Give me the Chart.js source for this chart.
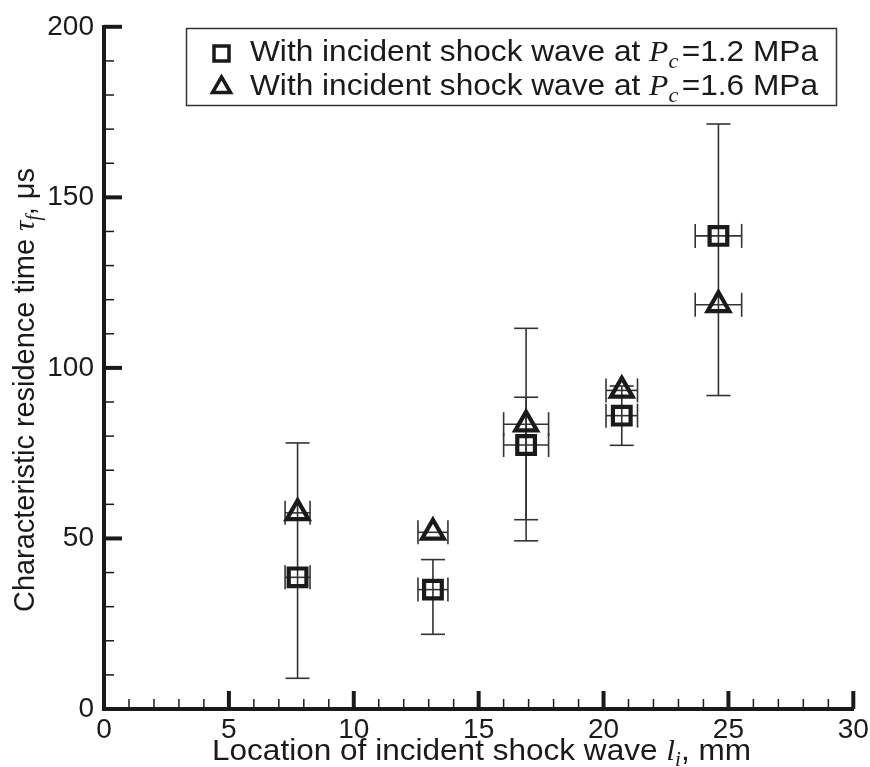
<!DOCTYPE html>
<html>
<head>
<meta charset="utf-8">
<script src="https://cdn.jsdelivr.net/npm/chart.js@4.4.0/dist/chart.umd.min.js"></script>
<style>
  html, body { margin: 0; padding: 0; background: #fff; }
  #wrap { width: 870px; height: 767px; }
</style>
</head>
<body>
<div id="wrap"><canvas id="grafico" width="870" height="767"></canvas></div>
<script>
// Ubicación del choque incidente l_i (mm)
const ubicacion = [7.75, 13.17, 16.9, 20.73, 24.6];
// Tiempo de residencia característico (µs)
const tau12 = [38.6, 35.0, 77.4, 86.0, 138.7];   // Pc = 1.2 MPa
const tau16 = [57.5, 51.8, 83.5, 93.4, 118.5];   // Pc = 1.6 MPa
// Incertidumbre horizontal (± mm)
const errX = [0.5, 0.6, 0.9, 0.63, 0.93];
// Barras verticales [mín, máx] en µs
const barras12 = [[9.0, 78.0], [21.9, 43.8], [49.3, 91.4], [77.3, 94.7], [91.9, 171.5]];
const barras16 = [null, null, [55.5, 111.6], null, null];
// Marcas de los ejes
const ticksX = [0, 5, 10, 15, 20, 25, 30];
const ticksY = [0, 50, 100, 150, 200];

const NEGRO = "#1a1a1a";
const SANS = "'Liberation Sans', Arial, Helvetica, sans-serif";
const SERIF = "'Liberation Serif', 'Times New Roman', serif";

// Texto con tramos (cursiva, subíndice) ajustado a un ancho dado
function textoTramos(ctx, tramos, ancho) {
  let total = 0;
  tramos.forEach(t => { ctx.font = t.font; t.w = ctx.measureText(t.t).width; total += t.w; });
  const s = ancho / total;
  ctx.save();
  ctx.scale(s, 1);
  let cx = 0;
  tramos.forEach(t => { ctx.font = t.font; ctx.fillText(t.t, cx, t.dy || 0); cx += t.w; });
  ctx.restore();
}

function linea(ctx, x1, y1, x2, y2) {
  ctx.beginPath(); ctx.moveTo(x1, y1); ctx.lineTo(x2, y2); ctx.stroke();
}

const decoracion = {
  id: "decoracion",
  beforeDatasetsDraw(chart) {
    const { ctx, scales: { x, y } } = chart;
    ctx.save();
    ctx.strokeStyle = "#333";
    ctx.lineWidth = 1.6;
    const tapa = 12;
    ubicacion.forEach((l, i) => {
      const px = x.getPixelForValue(l);
      // barras horizontales en ambas series
      [tau12[i], tau16[i]].forEach(t => {
        const py = y.getPixelForValue(t);
        const a = x.getPixelForValue(l - errX[i]), b = x.getPixelForValue(l + errX[i]);
        linea(ctx, a, py, b, py);
        linea(ctx, a, py - tapa, a, py + tapa);
        linea(ctx, b, py - tapa, b, py + tapa);
      });
      // barras verticales
      [barras12[i], barras16[i]].forEach(r => {
        if (!r) return;
        const p0 = y.getPixelForValue(r[0]), p1 = y.getPixelForValue(r[1]);
        linea(ctx, px, p0, px, p1);
        linea(ctx, px - tapa, p0, px + tapa, p0);
        linea(ctx, px - tapa, p1, px + tapa, p1);
      });
    });
    ctx.restore();
  },
  afterDraw(chart) {
    const { ctx, scales: { x, y } } = chart;
    ctx.save();
    ctx.strokeStyle = NEGRO;
    ctx.lineCap = "butt";

    // marcas mayores y menores hacia dentro
    for (let k = 0; k < ticksX.length; k++) {
      const v = ticksX[k];
      const px = x.getPixelForValue(v);
      ctx.lineWidth = 4;
      if (k > 0) linea(ctx, px, y.bottom, px, y.bottom - 18);
      if (k < ticksX.length - 1) {
        const paso = (ticksX[k + 1] - v) / 5;
        ctx.lineWidth = 1.5;
        for (let j = 1; j < 5; j++) {
          const pm = x.getPixelForValue(v + j * paso);
          linea(ctx, pm, y.bottom, pm, y.bottom - 10);
        }
      }
    }
    for (let k = 0; k < ticksY.length; k++) {
      const v = ticksY[k];
      const py = y.getPixelForValue(v);
      ctx.lineWidth = 4;
      if (k > 0) linea(ctx, x.left, py, x.left + 18, py);
      if (k < ticksY.length - 1) {
        const paso = (ticksY[k + 1] - v) / 5;
        ctx.lineWidth = 1.5;
        for (let j = 1; j < 5; j++) {
          const pm = y.getPixelForValue(v + j * paso);
          linea(ctx, x.left, pm, x.left + 10, pm);
        }
      }
    }

    // leyenda
    ctx.lineWidth = 1.5;
    ctx.strokeStyle = "#333";
    ctx.strokeRect(186.5, 28.5, 650, 77);
    ctx.strokeStyle = NEGRO;
    ctx.lineWidth = 3.5;
    ctx.strokeRect(214, 46, 15, 15);
    ctx.beginPath();
    ctx.moveTo(221.5, 77); ctx.lineTo(230.5, 92.5); ctx.lineTo(212.5, 92.5); ctx.closePath();
    ctx.stroke();

    ctx.fillStyle = NEGRO;
    ctx.textBaseline = "alphabetic";
    const etiquetas = ["=1.2 MPa", "=1.6 MPa"];
    etiquetas.forEach((e, i) => {
      ctx.save();
      ctx.translate(250, 61 + i * 34);
      textoTramos(ctx, [
        { t: "With incident shock wave at ", font: "30px " + SANS },
        { t: "P", font: "italic 30px " + SERIF },
        { t: "c", font: "italic 21px " + SERIF, dy: 7 },
        { t: " ", font: "12px " + SANS },
        { t: e, font: "30px " + SANS }
      ], 568);
      ctx.restore();
    });

    // título eje x
    ctx.save();
    ctx.translate(212, 760);
    textoTramos(ctx, [
      { t: "Location of incident shock wave ", font: "30px " + SANS },
      { t: "l", font: "italic 30px " + SERIF },
      { t: "i", font: "italic 20px " + SERIF, dy: 6 },
      { t: ", mm", font: "30px " + SANS }
    ], 539);
    ctx.restore();

    // título eje y
    ctx.save();
    ctx.translate(34, 612);
    ctx.rotate(-Math.PI / 2);
    textoTramos(ctx, [
      { t: "Characteristic residence time ", font: "30px " + SANS },
      { t: "τ", font: "italic 30px " + SERIF },
      { t: "f", font: "italic 20px " + SERIF, dy: 6 },
      { t: ", μs", font: "30px " + SANS }
    ], 444);
    ctx.restore();

    ctx.restore();
  }
};

const ctx = document.getElementById("grafico").getContext("2d");

window.grafico = new Chart(ctx, {
  type: "scatter",
  data: {
    datasets: [{
      label: "Pc = 1.2 MPa",
      data: ubicacion.map((l, i) => ({ x: l, y: tau12[i] })),
      pointStyle: "rect",
      pointRadius: 12.5,
      pointBorderWidth: 4.2,
      pointBorderColor: NEGRO,
      pointBackgroundColor: "rgba(0,0,0,0)"
    }, {
      label: "Pc = 1.6 MPa",
      data: ubicacion.map((l, i) => ({ x: l, y: tau16[i] })),
      pointStyle: "triangle",
      pointRadius: 12.5,
      pointBorderWidth: 4.2,
      pointBorderColor: NEGRO,
      pointBackgroundColor: "rgba(0,0,0,0)"
    }]
  },
  options: {
    responsive: false,
    animation: false,
    events: [],
    layout: { padding: { left: 0, top: 24, right: 16, bottom: 0 } },
    scales: {
      x: {
        type: "linear",
        min: 0,
        max: 30,
        afterBuildTicks: s => { s.ticks = ticksX.map(v => ({ value: v })); },
        afterFit: s => { s.height = 58; s.paddingRight = 0; },
        grid: { display: false, drawTicks: false },
        border: { display: true, width: 4, color: NEGRO },
        ticks: { color: NEGRO, padding: 4, maxRotation: 0, font: { family: SANS, size: 28 } }
      },
      y: {
        type: "linear",
        min: 0,
        max: 200,
        afterBuildTicks: s => { s.ticks = ticksY.map(v => ({ value: v })); },
        afterFit: s => { s.width = 104; },
        grid: { display: false, drawTicks: false },
        border: { display: true, width: 4, color: NEGRO },
        ticks: { color: NEGRO, padding: 10, font: { family: SANS, size: 28 } }
      }
    },
    plugins: {
      legend: { display: false },
      tooltip: { enabled: false }
    }
  },
  plugins: [decoracion]
});
</script>
</body>
</html>
